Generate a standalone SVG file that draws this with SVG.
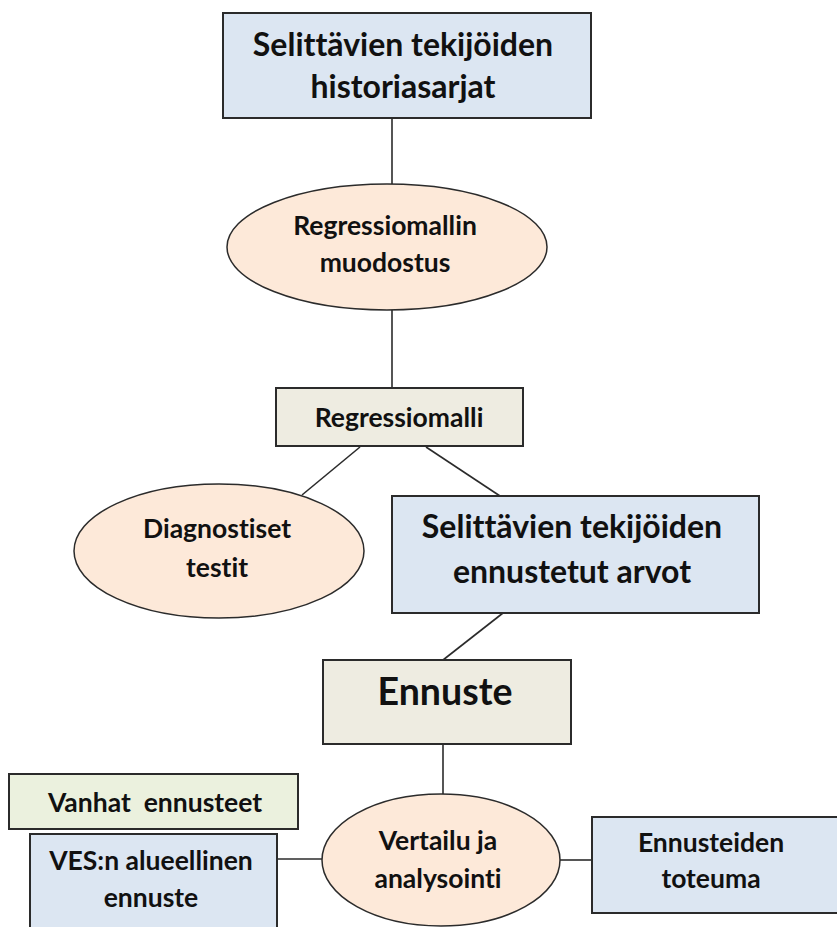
<svg xmlns="http://www.w3.org/2000/svg" width="837" height="927" viewBox="0 0 837 927">
  <style>
    .box { stroke: #2b2b2b; stroke-width: 2; }
    .blue { fill: #dce6f2; }
    .beige { fill: #eeece1; }
    .green { fill: #ebf1de; }
    .oval { fill: #fde9d9; stroke: #2b2b2b; stroke-width: 1.5; }
    .link { stroke: #2b2b2b; stroke-width: 1.6; fill: none; }
    text { font-family: Lato, "Liberation Sans", sans-serif; font-weight: bold; fill: #111; text-anchor: middle; font-variant-ligatures: none; }
    .big { font-size: 32px; }
    .mid { font-size: 26.5px; }
    .huge { font-size: 37.5px; }
  </style>
  <rect width="837" height="927" fill="#ffffff"/>

  <g id="connectors">
    <line class="link" x1="392" y1="118" x2="392" y2="184"/>
    <line class="link" x1="392" y1="310" x2="392" y2="388"/>
    <line class="link" x1="360" y1="447" x2="302" y2="495"/>
    <line class="link" x1="426" y1="447" x2="500" y2="496"/>
    <line class="link" x1="503" y1="613" x2="443" y2="660"/>
    <line class="link" x1="443" y1="744" x2="443" y2="794"/>
    <line class="link" x1="277" y1="859" x2="322" y2="859"/>
    <line class="link" x1="560" y1="860" x2="592" y2="860"/>
  </g>

  <g id="historiasarjat">
    <rect class="box blue" x="223" y="13" width="368" height="105"/>
    <text class="big" x="403" y="56">Selittävien tekijöiden</text>
    <text class="big" x="403" y="98">historiasarjat</text>
  </g>

  <g id="muodostus">
    <ellipse class="oval" cx="387" cy="247" rx="160" ry="63"/>
    <text class="mid" x="385" y="235">Regressiomallin</text>
    <text class="mid" x="385" y="272">muodostus</text>
  </g>

  <g id="regressiomalli">
    <rect class="box beige" x="276" y="388" width="247" height="58"/>
    <text class="mid" x="399" y="427">Regressiomalli</text>
  </g>

  <g id="diagnostiset">
    <ellipse class="oval" cx="219" cy="551" rx="145" ry="67"/>
    <text class="mid" x="217" y="538">Diagnostiset</text>
    <text class="mid" x="217" y="577">testit</text>
  </g>

  <g id="ennustetut-arvot">
    <rect class="box blue" x="392" y="496" width="367" height="117"/>
    <text class="big" x="572" y="538">Selittävien tekijöiden</text>
    <text class="big" x="572" y="583">ennustetut arvot</text>
  </g>

  <g id="ennuste">
    <rect class="box beige" x="323" y="660" width="248" height="84"/>
    <text class="huge" x="445" y="705">Ennuste</text>
  </g>

  <g id="vanhat-ennusteet">
    <rect class="box green" x="9" y="774" width="289" height="55"/>
    <text class="mid" x="155" y="812" xml:space="preserve">Vanhat  ennusteet</text>
  </g>

  <g id="ves-ennuste">
    <rect class="box blue" x="30" y="834" width="247" height="100"/>
    <text class="mid" x="151" y="870">VES:n alueellinen</text>
    <text class="mid" x="151" y="907">ennuste</text>
  </g>

  <g id="vertailu">
    <ellipse class="oval" cx="441" cy="860" rx="119" ry="66"/>
    <text class="mid" x="438" y="850">Vertailu ja</text>
    <text class="mid" x="438" y="888">analysointi</text>
  </g>

  <g id="toteuma">
    <rect class="box blue" x="592" y="817" width="260" height="96"/>
    <text class="mid" x="711" y="852">Ennusteiden</text>
    <text class="mid" x="711" y="888">toteuma</text>
  </g>
</svg>
